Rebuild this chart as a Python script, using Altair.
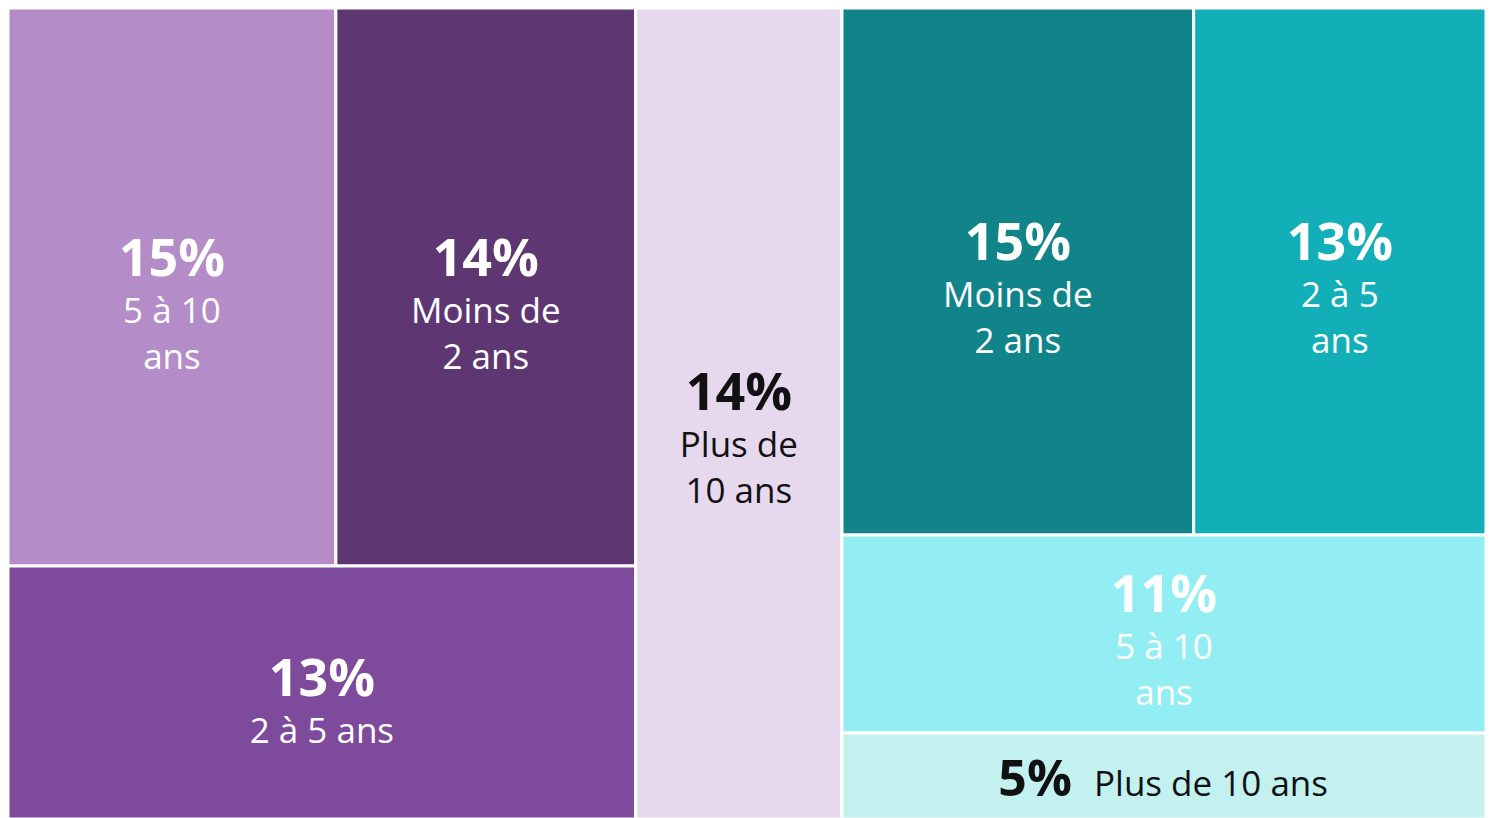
import altair as alt
import pandas as pd

# ---- data ----
categories = ["5 à 10 ans", "Moins de 2 ans", "2 à 5 ans", "Plus de 10 ans",
              "Moins de 2 ans", "2 à 5 ans", "5 à 10 ans", "Plus de 10 ans"]
values = [15.2, 13.9, 13.2, 13.9, 15.4, 12.8, 10.6, 4.6]
pct_labels = ["15%", "14%", "13%", "14%", "15%", "13%", "11%", "5%"]
label_lines = [["5 à 10", "ans"], ["Moins de", "2 ans"], ["2 à 5 ans"], ["Plus de", "10 ans"],
               ["Moins de", "2 ans"], ["2 à 5", "ans"], ["5 à 10", "ans"], ["Plus de 10 ans"]]

# treemap nesting (indices into the lists above): h = side by side, v = stacked
tree = ("h", [("h", [("v", [("h", [0, 1]), 2]), 3]),
              ("v", [("h", [4, 5]), 6, 7])])

# ---- styles ----
fill_colors = ["#B48CC7", "#5E3772", "#7E4A9B", "#E6D9EE",
               "#11848A", "#13AFB8", "#92EEF2", "#C3F1F0"]
text_colors = ["white", "white", "white", "#111111",
               "white", "white", "white", "#111111"]
W, H = 1478, 811
FONT = "Open Sans"


def total(node):
    if isinstance(node, int):
        return values[node]
    return sum(total(c) for c in node[1])


rects = {}


def place(node, x0, y0, x1, y1):
    if isinstance(node, int):
        rects[node] = (x0, y0, x1, y1)
        return
    d, kids = node
    t = total(node)
    pos = x0 if d == "h" else y0
    for k in kids:
        f = total(k) / t
        if d == "h":
            nx = pos + f * (x1 - x0)
            place(k, pos, y0, nx, y1)
        else:
            nx = pos + f * (y1 - y0)
            place(k, x0, pos, x1, nx)
        pos = nx


place(tree, 0.0, 0.0, 1.0, 1.0)

rect_rows = []
text_rows = []
for i in range(len(values)):
    x0, y0, x1, y1 = rects[i]
    rect_rows.append(dict(cat=categories[i], value=values[i], x0=x0, x1=x1, y0=y0, y1=y1,
                          fill=fill_colors[i]))
    xc = (x0 + x1) / 2
    yc = y0 + 0.53 * (y1 - y0)
    hpx = (y1 - y0) * H
    col = text_colors[i]
    if hpx < 120:
        # single line: bold percent followed by the label
        text_rows.append(dict(text=pct_labels[i], x=xc - 92 / W, y=yc + 17 / H, color=col, kind="bold_r"))
        text_rows.append(dict(text=" ".join(label_lines[i]), x=xc - 70 / W, y=yc + 17 / H, color=col, kind="reg_l"))
    else:
        n = len(label_lines[i])
        block = 38 + 47 + 46 * (n - 1)
        pb = -block / 2 + 38
        text_rows.append(dict(text=pct_labels[i], x=xc, y=yc + pb / H, color=col, kind="bold_c"))
        for k, line in enumerate(label_lines[i]):
            text_rows.append(dict(text=line, x=xc, y=yc + (pb + 47 + 46 * k) / H, color=col, kind="reg_c"))

rdf = pd.DataFrame(rect_rows)
tdf = pd.DataFrame(text_rows)

xs = alt.Scale(domain=[0, 1], nice=False, zero=False)
ys = alt.Scale(domain=[0, 1], nice=False, zero=False, reverse=True)

rect_layer = alt.Chart(rdf).mark_rect(stroke="white", strokeWidth=3).encode(
    x=alt.X("x0:Q", scale=xs, axis=None),
    x2="x1:Q",
    y=alt.Y("y0:Q", scale=ys, axis=None),
    y2="y1:Q",
    color=alt.Color("fill:N", scale=None, legend=None),
    tooltip=["cat:N", "value:Q"],
)


def tlayer(kind, **mk):
    return alt.Chart(tdf).transform_filter(alt.datum.kind == kind).mark_text(
        font=FONT, baseline="alphabetic", **mk
    ).encode(
        x=alt.X("x:Q", scale=xs, axis=None),
        y=alt.Y("y:Q", scale=ys, axis=None),
        text="text:N",
        color=alt.Color("color:N", scale=None, legend=None),
    )


chart = alt.layer(
    rect_layer,
    tlayer("bold_c", align="center", fontSize=52, fontWeight="bold"),
    tlayer("reg_c", align="center", fontSize=35),
    tlayer("bold_r", align="right", fontSize=50, fontWeight="bold"),
    tlayer("reg_l", align="left", fontSize=35),
).properties(
    width=W, height=H, padding=0, autosize=alt.AutoSizeParams(type="none")
).configure_view(stroke=None)

chart.save("out.html", embed_options={"renderer": "svg", "actions": False})
